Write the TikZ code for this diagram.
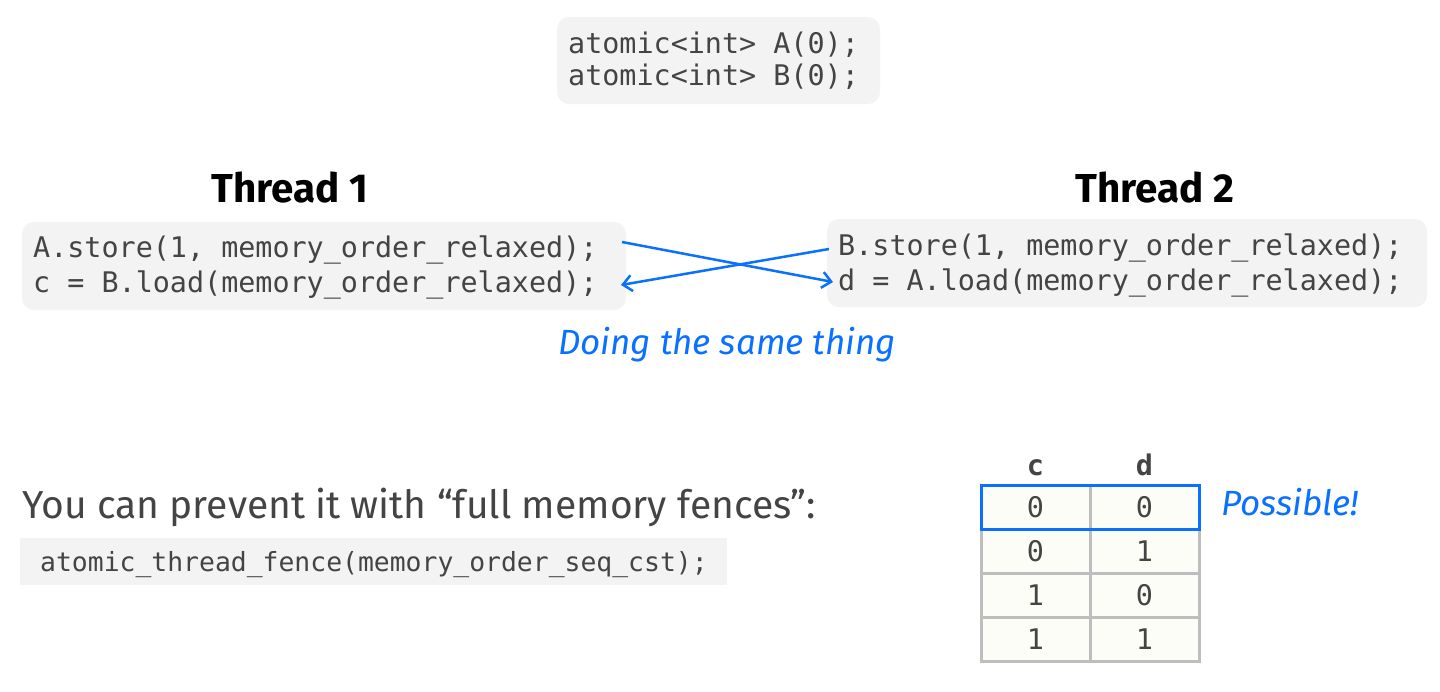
\documentclass[tikz,border=0pt]{standalone}
\usepackage{fontspec}
\setmainfont{Fira Sans}
\setmonofont{DejaVu Sans Mono}
\usetikzlibrary{arrows.meta}
\definecolor{blueC}{RGB}{10,112,255}
\definecolor{codeC}{RGB}{68,68,68}
\definecolor{boxC}{RGB}{243,243,243}
\definecolor{gridC}{RGB}{190,190,190}
\definecolor{cellC}{RGB}{253,253,248}
\tikzset{
  codebox/.style={fill=boxC, rounded corners=12pt, draw=none, inner sep=0pt},
  code/.style={font=\ttfamily\fontsize{28.4}{34}\selectfont, text=codeC, inner sep=0pt, anchor=base west},
  smallcode/.style={font=\ttfamily\fontsize{26.4}{32}\selectfont, text=codeC, inner sep=0pt, anchor=base west},
  title/.style={font=\bfseries\fontsize{40.4}{48}\selectfont, text=black, inner sep=0pt, anchor=base},
  note/.style={font=\itshape\fontsize{35}{42}\selectfont, text=blueC, inner sep=0pt, anchor=base west},
  arr/.style={draw=blueC, line width=2.5pt, -{Straight Barb[length=9pt,width=16pt,line width=2.5pt]}},
  cell/.style={draw=gridC, line width=3pt, fill=cellC, minimum width=109pt, minimum height=44pt, inner sep=0pt, font=\ttfamily\fontsize{28.4}{34}\selectfont, text=codeC},
  head/.style={font=\ttfamily\bfseries\fontsize{28.4}{34}\selectfont, text=codeC, inner sep=0pt, anchor=base},
}
\begin{document}
\begin{tikzpicture}[x=1pt,y=-1pt]
\useasboundingbox[fill=white] (0,0) rectangle (1440,691);
% top box
\path[codebox] (557,17) rectangle (880,104);
\node[code] (ta) at (568,53) {atomic<int> A(0);};
\node[code] (tb) at (568,85) {atomic<int> B(0);};
% titles
\node[title] (th1) at (290,202) {Thread 1};
\node[title] (th2) at (1155,202) {Thread 2};
% thread 1 box
\path[codebox] (22,222) rectangle (626,310);
\node[code] (t1a) at (33,257) {A.store(1, memory\_order\_relaxed);};
\node[code] (t1b) at (33,292) {c = B.load(memory\_order\_relaxed);};
% thread 2 box
\path[codebox] (827,219) rectangle (1427,307);
\node[code] (t2a) at (838,255) {B.store(1, memory\_order\_relaxed);};
\node[code] (t2b) at (838,290) {d = A.load(memory\_order\_relaxed);};
% arrows
\coordinate (s1) at (622,242);
\coordinate (e1) at (833,282);
\coordinate (s2) at (829,249);
\coordinate (e2) at (621,285);
\draw[arr] (s1) -- (e1);
\draw[arr] (s2) -- (e2);
\node[note, anchor=base] (same) at (727,354) {Doing the same thing};
% bottom text
\node[font=\fontsize{39}{46}\selectfont, text=codeC, inner sep=0pt, anchor=base west] (prev) at (22,518) {You can prevent it with “full memory fences”:};
\path[fill=boxC] (20,538) rectangle (727,585);
\node[smallcode] (fence) at (40,571) {atomic\_thread\_fence(memory\_order\_seq\_cst);};
% table
\node[head] (hc) at (1035.5,475) {c};
\node[head] (hd) at (1144.5,475) {d};
\node[cell] (c1) at (1035.5,507) {0};
\node[cell] (d1) at (1144.5,507) {0};
\node[cell] (c2) at (1035.5,551) {0};
\node[cell] (d2) at (1144.5,551) {1};
\node[cell] (c3) at (1035.5,595) {1};
\node[cell] (d3) at (1144.5,595) {0};
\node[cell] (c4) at (1035.5,639) {1};
\node[cell] (d4) at (1144.5,639) {1};
\draw[draw=blueC, line width=3pt] ([shift={(1.5,1.5)}]c1.north west) rectangle ([shift={(-1.5,-1.5)}]d1.south east);
\node[note] (poss) at (1221,515) {Possible!};
\end{tikzpicture}
\end{document}
